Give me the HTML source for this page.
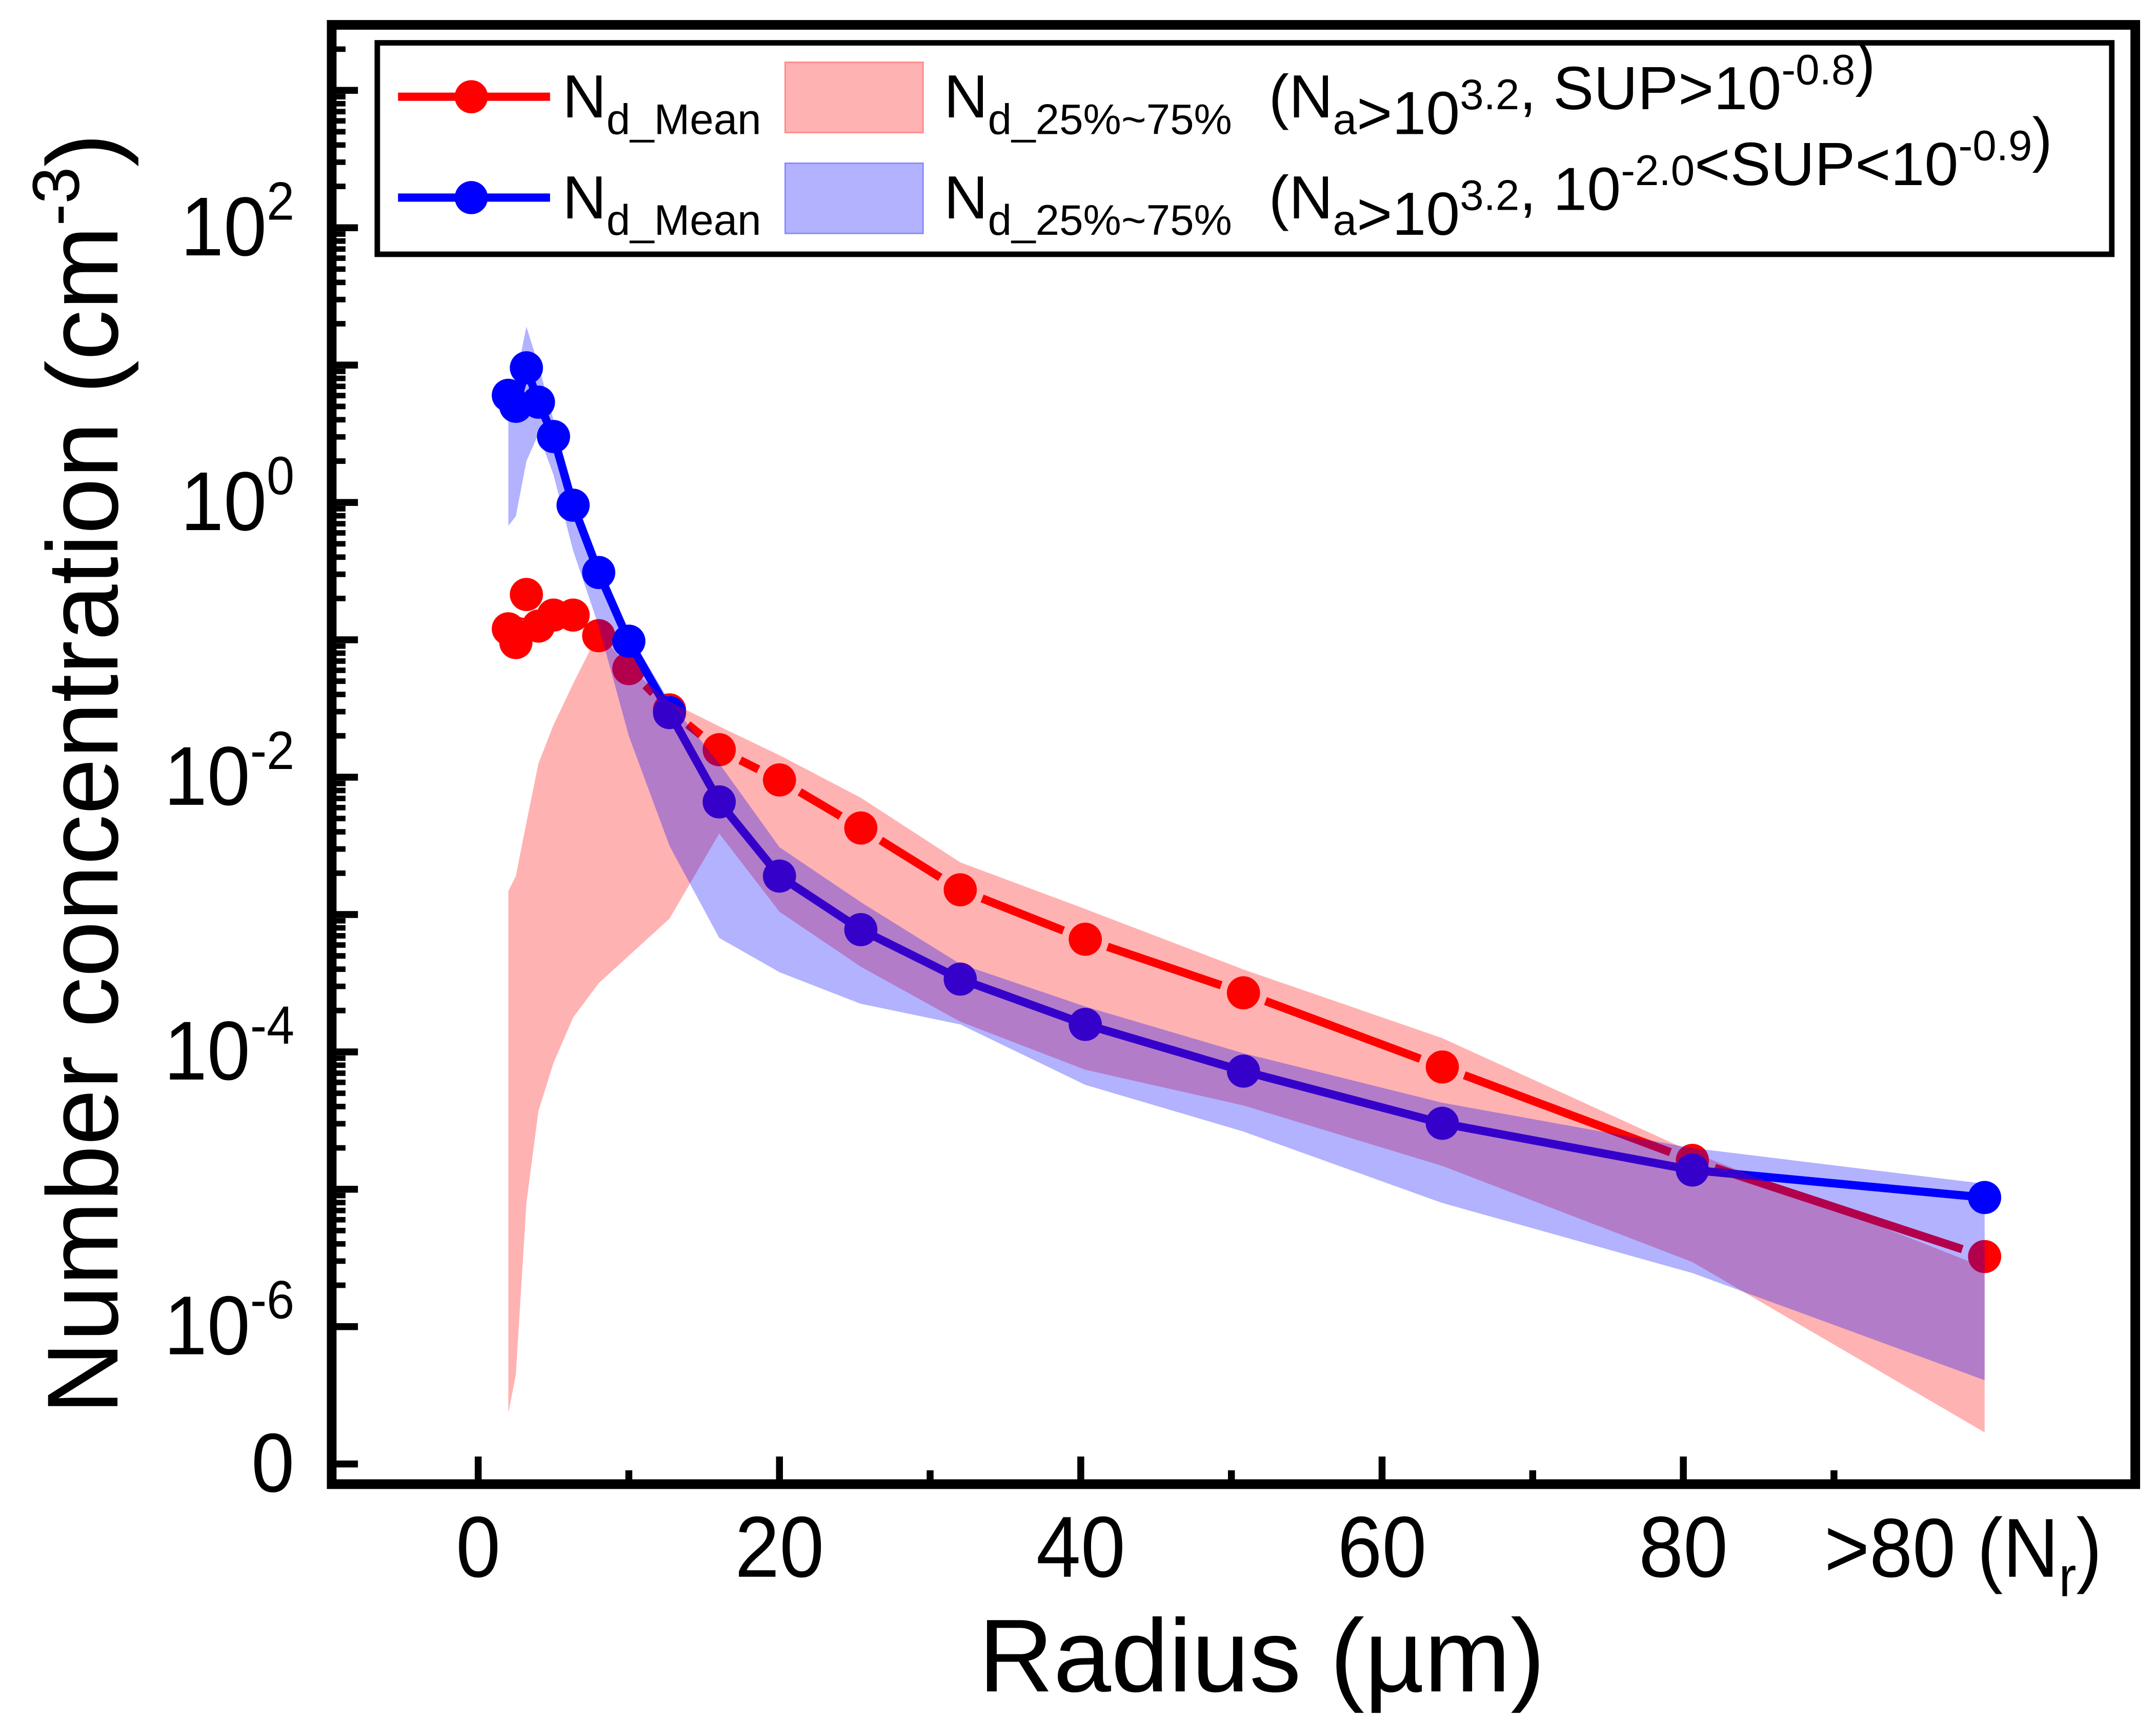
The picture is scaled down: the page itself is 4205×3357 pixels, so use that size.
<!DOCTYPE html>
<html><head><meta charset="utf-8"><style>
html,body{margin:0;padding:0;background:#fff}
svg{display:block}
text{font-family:"Liberation Sans",Arial,sans-serif;fill:#000}
</style></head><body>
<svg id="chart" width="4205" height="3357" viewBox="0 0 1560 1245.4" preserveAspectRatio="none" xmlns="http://www.w3.org/2000/svg">
<g id="lines"></g>
<g id="overlay"></g>
<g id="axes"></g>
</svg>
<script>
const radii=[2,2.5,3.2,4,5,6.3,8,10,12.7,16,20,25.4,32,40.3,50.8,64,80.6,100];
const redMean=[-0.92,-1.02,-0.67,-0.9,-0.82,-0.82,-0.97,-1.21,-1.51,-1.8,-2.02,-2.37,-2.82,-3.18,-3.57,-4.11,-4.79,-5.49];
const blueMean=[0.78,0.70,0.98,0.73,0.48,-0.02,-0.51,-1.01,-1.53,-2.18,-2.72,-3.11,-3.47,-3.8,-4.14,-4.52,-4.86,-5.06];
const redUpper=[-2.83,-2.72,-2.33,-1.9,-1.62,-1.32,-0.95,-1.2,-1.45,-1.63,-1.84,-2.15,-2.62,-2.96,-3.40,-3.90,-4.73,-5.57];
const redLower=[-6.63,-6.35,-5.1,-4.43,-4.08,-3.75,-3.5,-3.3,-3.03,-2.41,-2.98,-3.38,-3.78,-4.13,-4.39,-4.83,-5.53,-6.77];
const blueUpper=[0.8,0.9,1.28,1.0,0.6,0.05,-0.45,-0.95,-1.45,-1.9,-2.51,-2.91,-3.36,-3.67,-4.01,-4.37,-4.70,-4.96];
const blueLower=[-0.17,-0.1,0.3,0.5,0.2,-0.35,-0.9,-1.7,-2.5,-3.17,-3.42,-3.65,-3.80,-4.24,-4.58,-5.10,-5.61,-6.39];
const xTicks=[0,20,40,60,80];
const xTickLabels=["0","20","40","60","80"];
const yTickExp=[2,0,-2,-4,-6];

const NS="http://www.w3.org/2000/svg";
const X=v=>346+10.9*v;
const Y=l=>960-(l+6)*99.4;
function mk(tag,attrs,parent,txt){const e=document.createElementNS(NS,tag);for(const k in attrs)e.setAttribute(k,attrs[k]);if(txt!==undefined)e.textContent=txt;parent.appendChild(e);return e;}
const lines=document.getElementById('lines'),overlay=document.getElementById('overlay'),axes=document.getElementById('axes');

function band(up,lo,color,name){
  let pts=radii.map((r,i)=>X(r)+','+Y(up[i]));
  for(let i=radii.length-1;i>=0;i--)pts.push(X(radii[i])+','+Y(lo[i]));
  const p=mk('polygon',{points:pts.join(' '),fill:color,'fill-opacity':0.3,stroke:'none'},overlay);
  
  
}
function series(vals,color,name,gap){
  const g=mk('g',{},lines);
  
  
  for(let i=0;i<radii.length-1;i++){
    const x1=X(radii[i]),y1=Y(vals[i]),x2=X(radii[i+1]),y2=Y(vals[i+1]);
    const d=Math.hypot(x2-x1,y2-y1);if(d<=2*gap)continue;
    const ux=(x2-x1)/d,uy=(y2-y1)/d;
    mk('line',{x1:x1+ux*gap,y1:y1+uy*gap,x2:x2-ux*gap,y2:y2-uy*gap,stroke:color,'stroke-width':6},g);
  }
  radii.forEach((r,i)=>{
    const c=mk('circle',{cx:X(r),cy:Y(vals[i]),r:12,fill:color},lines);
    
    
  });
}
series(redMean,'#ff0000','red-mean',17);
series(blueMean,'#0000ff','blue-mean',0);
band(redUpper,redLower,'#ff0000','red-iqr-band');
band(blueUpper,blueLower,'#0000ff','blue-iqr-band');

const fr=mk('rect',{x:240,y:18,width:1305,height:1056,fill:'none',stroke:'#000','stroke-width':7},axes);


for(let e=-7;e<=3;e++){
  const y=Y(e);
  mk('line',{x1:243,x2:259,y1:y,y2:y,stroke:'#000','stroke-width':5},axes);
  if(e<3&&e>-7){for(let m=2;m<=9;m++){const ym=Y(e+Math.log10(m));mk('line',{x1:243,x2:250,y1:ym,y2:ym,stroke:'#000','stroke-width':4},axes);}}
}
mk('line',{x1:243,x2:250,y1:Y(3.3),y2:Y(3.3),stroke:'#000','stroke-width':4},axes);
yTickExp.forEach(e=>{
  const t=mk('text',{transform:`translate(213,${Y(e)+20}) scale(1,1.08)`,'font-size':56,'text-anchor':'end'},axes);
  
  
  mk('tspan',{},t,'10');
  mk('tspan',{dy:-24,'font-size':36},t,String(e));
});
const z=mk('text',{transform:`translate(213,${Y(-7)+20}) scale(1,1.08)`,'font-size':56,'text-anchor':'end'},axes,'0');


for(let v=0;v<=90;v+=10){
  const x=X(v);const len=(v%20===0)?17:7;
  mk('line',{x1:x,x2:x,y1:1071,y2:1071-len,stroke:'#000','stroke-width':5},axes);
}
xTicks.forEach((v,i)=>{
  const t=mk('text',{transform:`translate(${X(v)},1141) scale(1,1.08)`,'font-size':58,'text-anchor':'middle'},axes,xTickLabels[i]);
  
  
});
const gt=mk('text',{transform:'translate(1320,1141) scale(1,1.08)','font-size':56},axes);


mk('tspan',{},gt,'>80 (N');mk('tspan',{dy:13,'font-size':38},gt,'r');mk('tspan',{dy:-13},gt,')');
const xt=mk('text',{x:913,y:1224,'font-size':75,'text-anchor':'middle'},axes,'Radius (µm)');


const yt=mk('text',{transform:'translate(85,560) rotate(-90)','font-size':73,'text-anchor':'middle'},axes);


mk('tspan',{},yt,'Number concentration (cm');mk('tspan',{dy:-28,'font-size':48},yt,'-3');mk('tspan',{dy:28},yt,')');

const lg=mk('g',{},axes);


mk('rect',{x:273,y:31,width:1255,height:153,fill:'#fff',stroke:'#000','stroke-width':4},lg);
function legRow(y,color,cond){
  mk('line',{x1:288,x2:398,y1:y,y2:y,stroke:color,'stroke-width':6},lg);
  mk('circle',{cx:341,cy:y,r:12,fill:color},lg);
  const t1=mk('text',{x:407,y:y+15,'font-size':44},lg);
  mk('tspan',{},t1,'N');mk('tspan',{dy:12,'font-size':31},t1,'d_Mean');
  mk('rect',{x:568,y:y-25,width:100,height:51,fill:color,'fill-opacity':0.3,stroke:color,'stroke-opacity':0.35,'stroke-width':1},lg);
  const t2=mk('text',{x:683,y:y+15,'font-size':44},lg);
  mk('tspan',{},t2,'N');mk('tspan',{dy:12,'font-size':31},t2,'d_25%~75%');
  const t3=mk('text',{x:918,y:y+15,'font-size':44},lg);
  cond.forEach(([s,k])=>{
    if(k===0)mk('tspan',{},t3,s);
    else if(k===1){mk('tspan',{dy:-18,'font-size':31},t3,s);mk('tspan',{dy:18,'font-size':44},t3,'');}
    else {mk('tspan',{dy:12,'font-size':31},t3,s);mk('tspan',{dy:-12,'font-size':44},t3,'');}
  });
}
legRow(70,'#ff0000',[['(N',0],['a',2],['>10',0],['3.2',1],[', SUP>10',0],['-0.8',1],[')',0]]);
legRow(143,'#0000ff',[['(N',0],['a',2],['>10',0],['3.2',1],[', 10',0],['-2.0',1],['<SUP<10',0],['-0.9',1],[')',0]]);
</script>
</body></html>
